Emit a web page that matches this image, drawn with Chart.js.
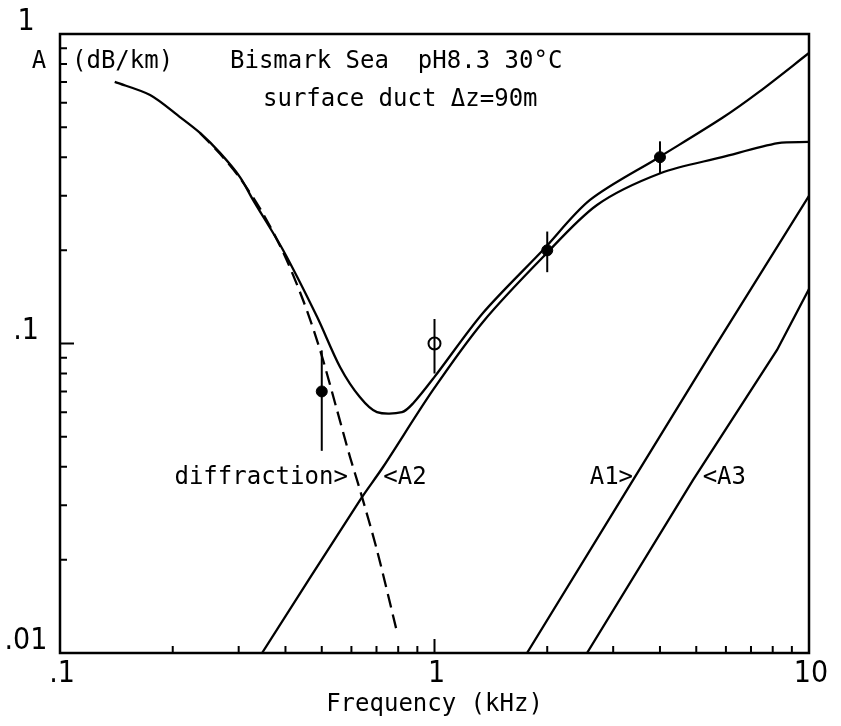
<!DOCTYPE html>
<html>
<head>
<meta charset="utf-8">
<title>Bismark Sea attenuation</title>
<script src="https://cdn.jsdelivr.net/npm/chart.js@4.4.1/dist/chart.umd.min.js"></script>
<style>
  html, body { margin: 0; padding: 0; background: #fff; }
  #wrap { width: 841px; height: 726px; }
</style>
</head>
<body>
<div id="wrap"><canvas id="absChart" width="841" height="726"></canvas></div>
<script>
// --- data: frequency in kHz, attenuation A in dB/km ---
const totalFreq = [0.140, 0.174, 0.209, 0.2365, 0.2675, 0.3024, 0.3276, 0.394, 0.4857, 0.5594,
                   0.6326, 0.702, 0.819, 0.876, 1.0, 1.347, 1.949, 2.602, 3.98, 5.86, 7.355, 10];
const totalAtt  = [0.700, 0.635, 0.539, 0.479, 0.413, 0.345, 0.291, 0.2005, 0.122, 0.084,
                   0.067, 0.060, 0.060, 0.064, 0.078, 0.1255, 0.2005, 0.291, 0.40, 0.535, 0.65, 0.868];

const diffFreq = [0.2365, 0.2675, 0.3024, 0.3463, 0.394, 0.4456, 0.4948, 0.549, 0.5948, 0.6326, 0.702, 0.794];
const diffAtt  = [0.479, 0.41, 0.342, 0.266, 0.1975, 0.1382, 0.0953, 0.061, 0.043, 0.0336, 0.0215, 0.0117];

const a2Freq = [0.3463, 0.6326, 0.7288, 0.991, 1.347, 1.949, 2.716, 4.026, 5.86, 8.265, 10];
const a2Att  = [0.01, 0.0312, 0.0399, 0.0708, 0.1174, 0.1903, 0.2803, 0.3556, 0.40, 0.444, 0.448];

const a1Freq = [1.766, 3.389, 5.541, 10];
const a1Att  = [0.01, 0.0362, 0.0953, 0.30];

const a3Freq = [2.554, 4.899, 8.216, 10];
const a3Att  = [0.01, 0.0362, 0.0953, 0.15];

// measured points (filled) and the open one at 1 kHz
const measFreq = [0.5, 2, 4];
const measAtt  = [0.07, 0.2, 0.40];
const measLow  = [0.045, 0.17, 0.355];
const measHigh = [0.095, 0.23, 0.45];

const openFreq = [1];
const openAtt  = [0.1];
const openLow  = [0.08];
const openHigh = [0.12];

// axes
const xTickValues = [0.1, 1, 10];
const xTickLabels = ['.1', '1', '10'];
const yTickValues = [0.01, 0.1, 1];
const yTickLabels = ['.01', '.1', '1'];
const xMinorTicks = [0.2, 0.3, 0.4, 0.5, 0.6, 0.7, 0.8, 0.9, 2, 3, 4, 5, 6, 7, 8, 9];
const yMinorTicks = [0.02, 0.03, 0.04, 0.05, 0.06, 0.07, 0.08, 0.09, 0.2, 0.3, 0.4, 0.5, 0.6, 0.7, 0.8, 0.9];

const MONO = "'DejaVu Sans Mono', monospace";
const NARROW = "'Liberation Sans Narrow', 'DejaVu Sans Condensed', 'DejaVu Sans Mono', sans-serif";
const INK = '#000';

function zip(xs, ys) {
  return xs.map((x, i) => ({ x: x, y: ys[i] }));
}

function curve(xs, ys, extra) {
  return Object.assign({
    data: zip(xs, ys),
    showLine: true,
    borderColor: INK,
    borderWidth: 2.3,
    pointRadius: 0,
    tension: 0.3,
    fill: false
  }, extra || {});
}

// vertical error bars as two-point segments
const errorBars = [];
measFreq.forEach((f, i) => {
  errorBars.push(curve([f, f], [measLow[i], measHigh[i]], { borderWidth: 2, tension: 0 }));
});
openFreq.forEach((f, i) => {
  errorBars.push(curve([f, f], [openLow[i], openHigh[i]], { borderWidth: 2, tension: 0 }));
});

// labels next to the curves, anchored in data coordinates
const curveLabels = [
  { text: 'diffraction>', f: 0.587, a: 0.0368, align: 'right' },
  { text: '<A2', f: 0.73, a: 0.0368, align: 'left' },
  { text: 'A1>', f: 3.39, a: 0.0368, align: 'right' },
  { text: '<A3', f: 5.2, a: 0.0368, align: 'left' }
];

const framePlugin = {
  id: 'frameTicks',
  afterDatasetsDraw(chart) {
    const { ctx, chartArea: ca, scales } = chart;
    const xs = scales.x, ys = scales.y;
    ctx.save();
    ctx.strokeStyle = INK;
    ctx.lineWidth = 2.5;
    ctx.strokeRect(ca.left, ca.top, ca.right - ca.left, ca.bottom - ca.top);

    // inward tick marks
    ctx.lineWidth = 2;
    ctx.beginPath();
    xMinorTicks.forEach(v => {
      const px = xs.getPixelForValue(v);
      ctx.moveTo(px, ca.bottom); ctx.lineTo(px, ca.bottom - 7);
    });
    const px1 = xs.getPixelForValue(1);
    ctx.moveTo(px1, ca.bottom); ctx.lineTo(px1, ca.bottom - 14);
    yMinorTicks.forEach(v => {
      const py = ys.getPixelForValue(v);
      ctx.moveTo(ca.left, py); ctx.lineTo(ca.left + 7, py);
    });
    const py1 = ys.getPixelForValue(0.1);
    ctx.moveTo(ca.left, py1); ctx.lineTo(ca.left + 14, py1);
    ctx.stroke();
    ctx.restore();
  },
  afterDraw(chart) {
    const { ctx, chartArea: ca, scales } = chart;
    ctx.save();
    ctx.fillStyle = INK;
    ctx.textBaseline = 'middle';

    // y tick labels sit a little above their ticks, as in the plotter output
    ctx.font = '30px ' + NARROW;
    ctx.textAlign = 'center';
    yTickValues.forEach((v, i) => {
      ctx.fillText(yTickLabels[i], ca.left - 34, scales.y.getPixelForValue(v) - 12);
    });

    ctx.font = '24px ' + MONO;
    ctx.fillText('A', ca.left - 21, 62);
    ctx.textAlign = 'left';
    ctx.fillText('(dB/km)', ca.left + 12, 62);
    ctx.fillText('Bismark Sea  pH8.3 30\u00B0C', 230, 62);
    ctx.fillText('surface duct \u0394z=90m', 263, 100);

    curveLabels.forEach(l => {
      ctx.textAlign = l.align;
      ctx.fillText(l.text, scales.x.getPixelForValue(l.f), scales.y.getPixelForValue(l.a));
    });
    ctx.restore();
  }
};

new Chart(document.getElementById('absChart'), {
  type: 'scatter',
  data: {
    datasets: [
      curve(totalFreq, totalAtt),
      curve(diffFreq, diffAtt, { borderDash: [14, 7] }),
      curve(a2Freq, a2Att),
      curve(a1Freq, a1Att, { tension: 0 }),
      curve(a3Freq, a3Att, { tension: 0 }),
      ...errorBars,
      {
        data: zip(measFreq, measAtt),
        pointRadius: 5.5,
        pointBackgroundColor: INK,
        pointBorderColor: INK,
        pointBorderWidth: 1
      },
      {
        data: zip(openFreq, openAtt),
        pointRadius: 6,
        pointBackgroundColor: '#fff',
        pointBorderColor: INK,
        pointBorderWidth: 2
      },
      {
        data: zip(openFreq, openAtt),
        pointStyle: 'line',
        pointRadius: 6,
        pointBorderColor: INK,
        pointBorderWidth: 2
      }
    ]
  },
  options: {
    responsive: false,
    animation: false,
    devicePixelRatio: 1,
    layout: { padding: { top: 34, right: 32, left: 0, bottom: 0 } },
    plugins: {
      legend: { display: false },
      tooltip: { enabled: false }
    },
    scales: {
      x: {
        type: 'logarithmic',
        min: 0.1,
        max: 10,
        grid: { display: false, drawTicks: false },
        border: { display: false },
        afterBuildTicks: s => { s.ticks = xTickValues.map(v => ({ value: v })); },
        afterFit: s => { s.height = 73; },
        ticks: {
          color: INK,
          padding: 3,
          labelOffset: 2,
          maxRotation: 0,
          autoSkip: false,
          font: { family: NARROW, size: 30 },
          callback: v => xTickLabels[xTickValues.indexOf(v)]
        },
        title: {
          display: true,
          text: 'Frequency (kHz)',
          color: INK,
          font: { family: MONO, size: 24 },
          padding: { top: 0, bottom: 7 }
        }
      },
      y: {
        type: 'logarithmic',
        min: 0.01,
        max: 1,
        grid: { display: false, drawTicks: false },
        border: { display: false },
        afterBuildTicks: s => { s.ticks = yTickValues.map(v => ({ value: v })); },
        afterFit: s => { s.width = 60; },
        ticks: { display: false }
      }
    }
  },
  plugins: [framePlugin]
});
</script>
</body>
</html>
